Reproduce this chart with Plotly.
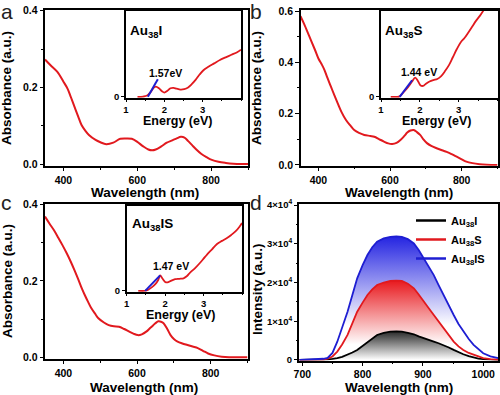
import plotly.graph_objects as go

# ---------------- data ----------------
# panel a: Au38I absorbance
a_wl = [350, 365, 383, 400, 411, 420, 430, 440, 449, 460, 469, 487, 500, 516, 535, 554, 570, 585, 600, 615,
        630, 640, 650, 665, 680, 695, 707, 718, 728, 738, 748, 760, 773, 788, 802, 820, 840, 860, 880, 900]
a_abs = [0.273, 0.258, 0.241, 0.215, 0.197, 0.175, 0.149, 0.124, 0.102, 0.086, 0.076, 0.063, 0.057, 0.052, 0.056,
         0.066, 0.067, 0.066, 0.058, 0.047, 0.038, 0.036, 0.038, 0.046, 0.056, 0.062, 0.067, 0.071, 0.069, 0.060,
         0.050, 0.038, 0.027, 0.018, 0.011, 0.006, 0.003, 0.001, 0.0, 0.0]
# inset a (energy)
ai_e = [1.30, 1.45, 1.55, 1.65, 1.72, 1.78, 1.86, 1.94, 2.00, 2.08, 2.16, 2.24, 2.32, 2.42, 2.52, 2.62, 2.72,
        2.82, 2.92, 3.02, 3.15, 3.30, 3.45, 3.60, 3.75, 3.90, 4.00]
ai_abs = [0.0, 0.003, 0.015, 0.06, 0.105, 0.12, 0.10, 0.065, 0.05, 0.07, 0.10, 0.105, 0.095, 0.085, 0.09, 0.11,
          0.15, 0.20, 0.26, 0.31, 0.35, 0.39, 0.43, 0.46, 0.49, 0.52, 0.55]
ai_fit_e = [1.57, 1.83]
ai_fit_abs = [0.0, 0.204]

# panel b: Au38S absorbance
b_wl = [350, 360, 375, 390, 400, 410, 417, 425, 435, 445, 454, 465, 477, 490, 500, 515, 528, 545, 556, 570,
        583, 595, 606, 618, 629, 640, 648, 657, 666, 675, 684, 693, 703, 715, 730, 745, 758, 772, 786, 800,
        813, 830, 850, 870, 900]
b_abs = [0.58, 0.55, 0.50, 0.45, 0.415, 0.39, 0.37, 0.34, 0.305, 0.27, 0.24, 0.205, 0.175, 0.152, 0.136, 0.124,
         0.117, 0.113, 0.110, 0.100, 0.091, 0.084, 0.082, 0.086, 0.097, 0.113, 0.126, 0.134, 0.136, 0.128, 0.117,
         0.100, 0.085, 0.074, 0.065, 0.057, 0.051, 0.042, 0.032, 0.022, 0.013, 0.007, 0.003, 0.001, 0.0]
bi_e = [1.25, 1.40, 1.48, 1.60, 1.70, 1.80, 1.88, 1.95, 2.02, 2.08, 2.15, 2.25, 2.35, 2.45, 2.55, 2.65, 2.75,
        2.85, 2.95, 3.05, 3.15, 3.25, 3.35, 3.45, 3.55, 3.65]
bi_abs = [0.0, 0.0, 0.006, 0.063, 0.115, 0.179, 0.224, 0.185, 0.133, 0.127, 0.15, 0.179, 0.196, 0.208, 0.242,
          0.30, 0.369, 0.461, 0.554, 0.634, 0.685, 0.75, 0.819, 0.888, 0.946, 1.015]
bi_fit_e = [1.48, 1.80]
bi_fit_abs = [0.0, 0.193]

# panel c: Au38IS absorbance
c_wl = [350, 362, 374, 386, 397, 409, 420, 430, 439, 448, 458, 467, 476, 486, 495, 510, 523, 537, 551, 565,
        579, 590, 602, 613, 625, 635, 644, 651, 658, 665, 672, 682, 691, 700, 710, 723, 737, 751, 765, 779,
        793, 810, 830, 850, 877, 900]
c_abs = [0.368, 0.350, 0.333, 0.313, 0.294, 0.272, 0.250, 0.228, 0.207, 0.185, 0.163, 0.145, 0.128, 0.114, 0.102,
         0.091, 0.084, 0.081, 0.080, 0.074, 0.067, 0.062, 0.058, 0.060, 0.067, 0.076, 0.084, 0.090, 0.094, 0.093,
         0.089, 0.074, 0.058, 0.048, 0.041, 0.036, 0.032, 0.028, 0.024, 0.017, 0.010, 0.005, 0.0015, 0.0, 0.0, 0.0]
ci_e = [1.30, 1.47, 1.55, 1.65, 1.75, 1.82, 1.87, 1.93, 2.00, 2.06, 2.15, 2.26, 2.37, 2.48, 2.57, 2.65, 2.78,
        2.91, 3.00, 3.09, 3.22, 3.35, 3.48, 3.61, 3.72, 3.83, 3.93, 4.00]
ci_abs = [0.0, 0.0, 0.012, 0.041, 0.082, 0.128, 0.181, 0.146, 0.105, 0.099, 0.117, 0.137, 0.142, 0.148, 0.175,
          0.215, 0.268, 0.331, 0.379, 0.428, 0.49, 0.553, 0.589, 0.623, 0.659, 0.70, 0.753, 0.80]
ci_fit_e = [1.48, 1.87]
ci_fit_abs = [0.0, 0.183]

# panel d: PL spectra
d_wl = [695, 710, 725, 735, 742, 750, 758, 766, 775, 783, 791, 800, 808, 816, 824, 835, 846, 856, 865, 875,
        885, 893, 901, 910, 918, 926, 934, 943, 951, 959, 967, 976, 984, 992, 1000, 1012, 1025]
d_au38i = [0, 10, 30, 60, 150, 280, 440, 800, 1290, 1900, 2580, 3600, 4730, 5600, 6450, 7000, 7300, 7350, 7300,
           7000, 6620, 6100, 5600, 5150, 4730, 4300, 3870, 3200, 2580, 2000, 1470, 1000, 600, 350, 200, 80, 0]
d_au38s = [0, 20, 40, 100, 300, 900, 2150, 4000, 6450, 9300, 12460, 14800, 16770, 18200, 19350, 20000, 20400,
           20500, 20400, 19700, 18500, 16900, 15050, 13300, 11600, 9900, 8180, 6400, 4730, 3500, 2580, 1800, 1290,
           800, 440, 200, 50]
d_au38is = [0, 50, 150, 300, 500, 1800, 4700, 8300, 12460, 16800, 21080, 24500, 27100, 29100, 30530, 31400, 31800,
            31900, 31800, 31200, 30100, 28400, 26240, 24000, 21900, 19300, 16770, 14100, 11600, 9300, 7300, 5400,
            3870, 2700, 1720, 900, 440]
d_names = ["Au<sub>38</sub>I", "Au<sub>38</sub>S", "Au<sub>38</sub>IS"]
d_ticks = [0, 10000, 20000, 30000, 40000]
d_ticktext = ["0", "1×10<sup>4</sup>", "2×10<sup>4</sup>", "3×10<sup>4</sup>", "4×10<sup>4</sup>"]

# ---------------- style ----------------
W, H = 500, 395
FONT = "Liberation Sans"
RED = "#e1191e"
BLUE = "#1e1ed2"


def X(p):
    return p / W


def Y(p):
    return 1 - p / H


def axis(dom, anchor, rng, size=10.5, **kw):
    d = dict(domain=dom, anchor=anchor, range=rng, showline=True, linecolor="black", linewidth=1.5,
             mirror=True, ticks="outside", ticklen=3.5, tickwidth=1.3, tickcolor="black", showgrid=False,
             zeroline=False, automargin=False,
             tickfont=dict(family=FONT, size=size, color="black", weight="bold"))
    d.update(kw)
    return d


def minor(dt):
    return dict(ticks="outside", ticklen=2, tickwidth=1.2, tickcolor="black", dtick=dt, showgrid=False)


fig = go.Figure()

# main absorbance curves
fig.add_trace(go.Scatter(x=a_wl, y=a_abs, mode="lines", line=dict(color=RED, width=2, shape="spline"),
                         xaxis="x", yaxis="y", showlegend=False))
fig.add_trace(go.Scatter(x=b_wl, y=b_abs, mode="lines", line=dict(color=RED, width=2, shape="spline"),
                         xaxis="x2", yaxis="y2", showlegend=False))
fig.add_trace(go.Scatter(x=c_wl, y=c_abs, mode="lines", line=dict(color=RED, width=2, shape="spline"),
                         xaxis="x3", yaxis="y3", showlegend=False))

# PL curves with gradient fills
fig.add_trace(go.Scatter(x=d_wl, y=d_au38i, mode="lines", name=d_names[0], line=dict(color="black", width=1.8),
                         fill="tozeroy", showlegend=False,
                         fillgradient=dict(type="vertical", colorscale=[[0, "white"], [1, "rgb(40,40,40)"]],
                                           start=0, stop=7400),
                         xaxis="x4", yaxis="y4"))
fig.add_trace(go.Scatter(x=d_wl, y=d_au38s, mode="lines", name=d_names[1], line=dict(color=RED, width=1.8),
                         fill="tonexty", showlegend=False,
                         fillgradient=dict(type="vertical", colorscale=[[0, "white"], [1, "rgb(232,25,30)"]],
                                           start=4000, stop=20500),
                         xaxis="x4", yaxis="y4"))
fig.add_trace(go.Scatter(x=d_wl, y=d_au38is, mode="lines", name=d_names[2], line=dict(color=BLUE, width=1.8),
                         fill="tonexty", showlegend=False,
                         fillgradient=dict(type="vertical", colorscale=[[0, "white"], [1, "rgb(35,35,225)"]],
                                           start=9000, stop=32000),
                         xaxis="x4", yaxis="y4"))
# legend entries (line-only keys)
for nm, col in zip(d_names, ["black", RED, BLUE]):
    fig.add_trace(go.Scatter(x=[None], y=[None], mode="lines", name=nm, line=dict(color=col, width=2.5),
                             xaxis="x4", yaxis="y4", showlegend=True))

# insets
for (e, v, fe, fv, n) in [(ai_e, ai_abs, ai_fit_e, ai_fit_abs, 5), (bi_e, bi_abs, bi_fit_e, bi_fit_abs, 6),
                          (ci_e, ci_abs, ci_fit_e, ci_fit_abs, 7)]:
    fig.add_trace(go.Scatter(x=e, y=v, mode="lines", line=dict(color=RED, width=1.8, shape="spline"),
                             xaxis="x%d" % n, yaxis="y%d" % n, showlegend=False))
    fig.add_trace(go.Scatter(x=fe, y=fv, mode="lines", line=dict(color=BLUE, width=2),
                             xaxis="x%d" % n, yaxis="y%d" % n, showlegend=False))

# axes
pa = dict(x=[45, 248], y=[10, 166])
pb = dict(x=[300.5, 497.5], y=[10, 165.7])
pc = dict(x=[45, 247.5], y=[204, 359])
pd = dict(x=[299.3, 498.3], y=[204.3, 360.5])


def xdom(p):
    return [X(p["x"][0]), X(p["x"][1])]


def ydom(p):
    return [Y(p["y"][1]), Y(p["y"][0])]


layout = dict(
    xaxis=axis(xdom(pa), "y", [350, 900], dtick=200, minor=minor(100)),
    yaxis=axis(ydom(pa), "x", [-0.005, 0.402], dtick=0.2, tickformat=".1f", minor=minor(0.1)),
    xaxis2=axis(xdom(pb), "y2", [350, 900], dtick=200, minor=minor(100)),
    yaxis2=axis(ydom(pb), "x2", [-0.003, 0.604], dtick=0.2, tickformat=".1f", minor=minor(0.1)),
    xaxis3=axis(xdom(pc), "y3", [350, 900], dtick=200, minor=minor(100)),
    yaxis3=axis(ydom(pc), "x3", [-0.0045, 0.401], dtick=0.2, tickformat=".1f", minor=minor(0.1)),
    xaxis4=axis(xdom(pd), "y4", [695, 1025], dtick=100, minor=minor(50)),
    yaxis4=axis(ydom(pd), "x4", [-150, 40200], tickvals=d_ticks, ticktext=d_ticktext, size=9.5,
                minor=minor(5000)),
)

insets = {5: dict(x=[126, 241], y=[11, 97.7]), 6: dict(x=[381, 497.5], y=[11, 97.7]),
          7: dict(x=[126.7, 242], y=[206, 291.7])}
for n, p in insets.items():
    layout["xaxis%d" % n] = axis(xdom(p), "y%d" % n, [1, 4], size=9.5, tickvals=[1, 2, 3], ticklen=2.5,
                                 minor=minor(0.5))
    layout["yaxis%d" % n] = axis(ydom(p), "x%d" % n, [-0.01, 1], size=9.5, tickvals=[0], ticktext=["0"],
                                 ticklen=3)

ann = []


def text(t, x, y, size, bold=True, xanchor="center", yanchor="middle", angle=0, color="black"):
    ann.append(dict(text=t, x=X(x), y=Y(y), xref="paper", yref="paper", showarrow=False, textangle=angle,
                    xanchor=xanchor, yanchor=yanchor, borderpad=0,
                    font=dict(family=FONT, size=size, color=color, weight="bold" if bold else "normal")))


# axis titles
text("Wavelength (nm)", 145, 193, 13.5)
text("Wavelength (nm)", 399, 193, 13.5)
text("Wavelength (nm)", 144, 387, 13.5)
text("Wavelength (nm)", 398.5, 387, 13.5)
text("Absorbance (a.u.)", 7, 88, 13.5, angle=-90)
text("Absorbance (a.u.)", 257, 88, 13.5, angle=-90)
text("Absorbance (a.u.)", 7, 281, 13.5, angle=-90)
text("Intensity (a.u.)", 257, 289, 13.5, angle=-90)
text("Energy (eV)", 177, 120.5, 12.5)
text("Energy (eV)", 436, 121, 12.5)
text("Energy (eV)", 180, 315, 12.5)
# inset labels
text("Au<sub>38</sub>I", 129, 31.5, 13.5, xanchor="left")
text("Au<sub>38</sub>S", 384, 32, 13.5, xanchor="left")
text("Au<sub>38</sub>IS", 130.5, 224.5, 13.5, xanchor="left")
text("1.57eV", 165, 72.8, 10.5)
text("1.44 eV", 419, 72.5, 10.5)
text("1.47 eV", 171, 266.3, 10.5)
# panel letters
text("a", 0, 11, 21, bold=False, xanchor="left", color="#222")
text("b", 249, 11, 21, bold=False, xanchor="left", color="#222")
text("c", 0, 203, 21, bold=False, xanchor="left", color="#222")
text("d", 249, 203, 21, bold=False, xanchor="left", color="#222")

fig.update_layout(
    **layout,
    annotations=ann,
    width=W, height=H,
    margin=dict(l=0, r=0, t=0, b=0, autoexpand=False),
    paper_bgcolor="white", plot_bgcolor="white",
    font=dict(family=FONT, color="black"),
    legend=dict(x=X(411), xanchor="left", y=Y(206), yanchor="top", bgcolor="rgba(0,0,0,0)",
                font=dict(family=FONT, size=11, color="black", weight="bold"), itemwidth=30,
                tracegroupgap=0, traceorder="normal"),
)

fig.write_html("out.html", config={"displayModeBar": False},
               post_script="document.body.style.margin='0px';document.body.style.padding='0px';")
